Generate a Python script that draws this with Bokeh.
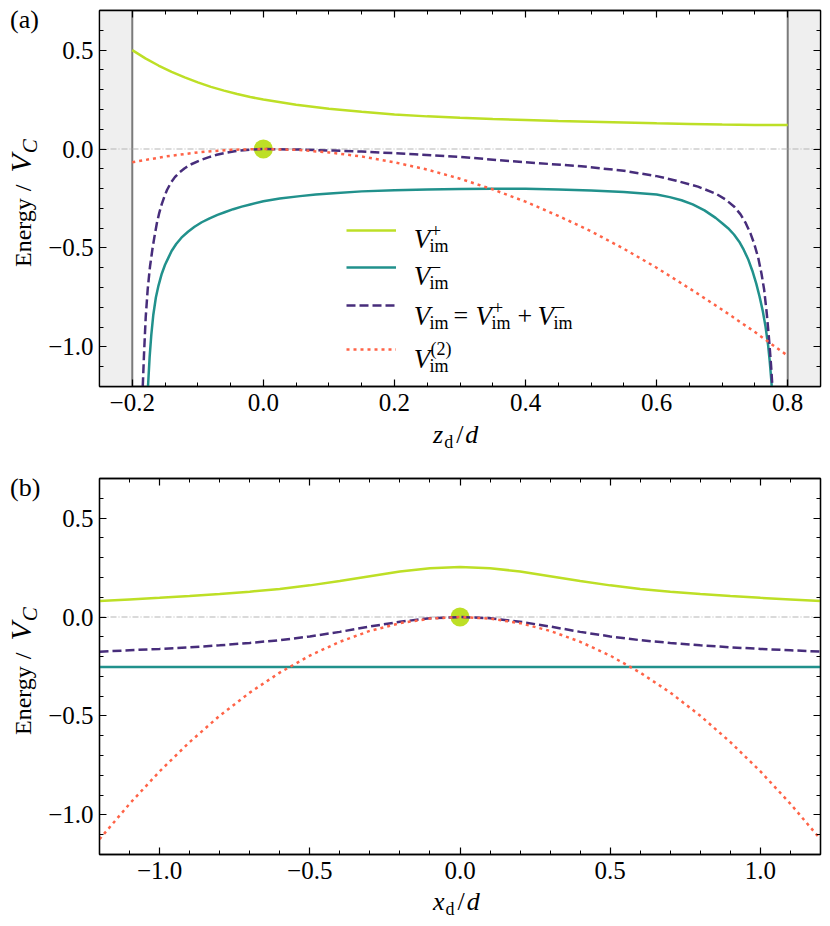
import numpy as np
from bokeh.plotting import figure
from bokeh.models import (Range1d, FixedTicker, LinearAxis, CustomJSTickFormatter,
                          BoxAnnotation, Span, Label, Legend, LegendItem, Div)
from bokeh.layouts import column, row
from bokeh.embed import file_html
from bokeh.resources import INLINE

# ---------------- data : panel (a), energy vs z_d/d ----------------
wall_left = -0.2
wall_right = 0.8

za_plus = [-0.20, -0.18, -0.16, -0.14, -0.12, -0.10, -0.08, -0.06, -0.04, -0.02, 0.00,
           0.05, 0.10, 0.15, 0.20, 0.25, 0.30, 0.35, 0.40, 0.45, 0.50, 0.55, 0.60,
           0.65, 0.70, 0.75, 0.80]
va_plus = [0.500, 0.458, 0.422, 0.390, 0.362, 0.337, 0.314, 0.295, 0.278, 0.263, 0.250,
           0.224, 0.204, 0.188, 0.175, 0.165, 0.158, 0.152, 0.147, 0.142, 0.138, 0.134, 0.130,
           0.127, 0.124, 0.122, 0.121]

za_minus = [-0.178, -0.176, -0.1735, -0.171, -0.168, -0.164, -0.160, -0.155, -0.150, -0.145,
            -0.140, -0.133, -0.125, -0.115, -0.105, -0.094, -0.082, -0.070, -0.058, -0.046,
            -0.033, -0.020, 0.000, 0.025, 0.056, 0.080, 0.107, 0.150, 0.200, 0.250, 0.300,
            0.350, 0.400, 0.450, 0.500, 0.550, 0.600, 0.620, 0.638, 0.655, 0.673, 0.690,
            0.700, 0.709, 0.718, 0.726, 0.733, 0.740, 0.746, 0.752, 0.757, 0.762, 0.766,
            0.770, 0.7725, 0.775, 0.7765, 0.778]
va_minus = [-1.33, -1.20, -1.05, -0.94, -0.84, -0.75, -0.69, -0.63, -0.585, -0.550,
            -0.515, -0.480, -0.448, -0.418, -0.393, -0.370, -0.350, -0.333, -0.318, -0.304,
            -0.291, -0.280, -0.264, -0.250, -0.238, -0.230, -0.223, -0.214, -0.208, -0.204, -0.202,
            -0.201, -0.201, -0.204, -0.209, -0.217, -0.230, -0.243, -0.259, -0.280, -0.310, -0.348,
            -0.375, -0.400, -0.432, -0.468, -0.510, -0.560, -0.615, -0.680, -0.745, -0.820, -0.895,
            -0.990, -1.070, -1.170, -1.250, -1.330]

za_im = [-0.1855, -0.184, -0.182, -0.1795, -0.1765, -0.173, -0.169, -0.1655, -0.1625, -0.159,
         -0.155, -0.151, -0.147, -0.141, -0.135, -0.128, -0.120, -0.110, -0.0965, -0.084,
         -0.071, -0.058, -0.046, -0.030, -0.015, 0.000, 0.056, 0.107, 0.150, 0.231, 0.300,
         0.400, 0.485, 0.550, 0.600, 0.630, 0.663, 0.690, 0.705, 0.718, 0.728, 0.736, 0.743,
         0.749, 0.755, 0.760, 0.764, 0.768, 0.7715, 0.7745, 0.777, 0.7785]
va_im = [-1.33, -1.20, -1.03, -0.85, -0.71, -0.595, -0.50, -0.43, -0.375, -0.325,
         -0.278, -0.240, -0.207, -0.170, -0.142, -0.118, -0.097, -0.077, -0.057, -0.042,
         -0.029, -0.019, -0.012, -0.006, -0.002, 0.000, -0.003, -0.008, -0.013, -0.026, -0.040,
         -0.067, -0.087, -0.110, -0.137, -0.160, -0.190, -0.225, -0.255, -0.290, -0.330, -0.375,
         -0.425, -0.480, -0.550, -0.630, -0.710, -0.830, -0.960, -1.090, -1.220, -1.320]

za_2 = [-0.20, -0.15, -0.10, -0.05, 0.00, 0.05, 0.10, 0.15, 0.20, 0.25, 0.30, 0.35, 0.40,
        0.45, 0.50, 0.55, 0.60, 0.65, 0.70, 0.75, 0.80]
va_2 = [-0.067, -0.038, -0.017, -0.004, 0.000, -0.004, -0.017, -0.038, -0.067, -0.104, -0.150,
        -0.204, -0.266, -0.338, -0.416, -0.504, -0.600, -0.704, -0.812, -0.925, -1.045]

marker_a_z = [0.0]
marker_a_v = [0.0]

# ---------------- data : panel (b), energy vs x_d/d ----------------
xb = [-1.2, -1.1, -1.0, -0.9, -0.8, -0.7, -0.6, -0.5, -0.4, -0.3, -0.2, -0.1, 0.0,
      0.1, 0.2, 0.3, 0.4, 0.5, 0.6, 0.7, 0.8, 0.9, 1.0, 1.1, 1.2]
vb_plus = [0.081, 0.089, 0.097, 0.106, 0.116, 0.128, 0.142, 0.160, 0.182, 0.206, 0.230, 0.247,
           0.253, 0.247, 0.230, 0.206, 0.182, 0.160, 0.142, 0.128, 0.116, 0.106, 0.097, 0.089, 0.081]
xb_minus = [-1.2, 1.2]
vb_minus = [-0.253, -0.253]
vb_im = [-0.175, -0.168, -0.161, -0.153, -0.143, -0.131, -0.117, -0.098, -0.075, -0.048, -0.024,
         -0.006, 0.000, -0.006, -0.024, -0.048, -0.075, -0.098, -0.117, -0.131, -0.143, -0.153,
         -0.161, -0.168, -0.175]
vb_2 = [-1.123, -0.944, -0.780, -0.632, -0.499, -0.382, -0.281, -0.195, -0.125, -0.070, -0.031,
        -0.008, 0.000, -0.008, -0.031, -0.070, -0.125, -0.195, -0.281, -0.382, -0.499, -0.632,
        -0.780, -0.944, -1.123]
marker_b_x = [0.0]
marker_b_v = [0.0]

# tick positions
xa_major = [-0.2, 0.0, 0.2, 0.4, 0.6, 0.8]
xb_major = [-1.0, -0.5, 0.0, 0.5, 1.0]
y_major = [-1.0, -0.5, 0.0, 0.5]

# ---------------- styling ----------------
FONT = "Liberation Serif"
C_PLUS = "#bddf26"
C_MINUS = "#21918c"
C_IM = "#472d7b"
C_2 = "#ff6347"
LW = 2.5
DASH = "9 4"
DOT = "3 4"
ZERO_DASH = "6 2 1 2"

xa_minor = [round(v, 3) for v in np.arange(-0.25, 0.8501, 0.05)]
xb_minor = [round(v, 3) for v in np.arange(-1.2, 1.2001, 0.1)]
y_minor = [round(v, 3) for v in np.arange(-1.2, 0.7001, 0.1)]

fmt = CustomJSTickFormatter(code="""
var s = Math.abs(tick) < 1e-9 ? '0.0' : tick.toFixed(1);
return s.replace('-', '\\u2212');
""")
blank = CustomJSTickFormatter(code="return '';")


def make_axis(kind, major, minor, show):
    ax = LinearAxis(ticker=FixedTicker(ticks=major, minor_ticks=minor))
    ax.major_tick_in = 7
    ax.major_tick_out = 0
    ax.minor_tick_in = 4
    ax.minor_tick_out = 0
    ax.axis_line_color = "black"
    ax.axis_line_width = 1.3
    ax.major_tick_line_color = "black"
    ax.major_tick_line_width = 1.2
    ax.minor_tick_line_color = "black"
    ax.minor_tick_line_width = 1.0
    if show:
        ax.formatter = fmt
        ax.major_label_text_font = FONT
        ax.major_label_text_font_size = "25px"
        ax.major_label_text_color = "black"
        ax.major_label_standoff = 7 if kind == "x" else 6
    else:
        ax.formatter = blank
        ax.major_label_text_font_size = "0px"
        ax.major_label_standoff = 0
    return ax


def add_text(p, fx, fy, px, py, text, size, style="normal"):
    p.add_layout(Label(x=px - fx, y=fy - py, x_units="screen", y_units="screen",
                       text=text, text_font=FONT, text_font_size=f"{size}px",
                       text_font_style=style, text_color="black", text_align="left",
                       text_baseline="alphabetic"))


def base_fig(height, xr, top, xmaj, xmin):
    p = figure(width=790, height=height, x_range=Range1d(*xr), y_range=Range1d(-1.2, 0.7),
               output_backend="svg", toolbar_location=None, x_axis_type=None, y_axis_type=None,
               min_border_left=59, min_border_right=10, min_border_top=top, min_border_bottom=40)
    p.grid.visible = False
    p.outline_line_color = "black"
    p.outline_line_width = 1.3
    p.background_fill_color = "white"
    p.border_fill_color = "white"
    p.add_layout(make_axis("x", xmaj, xmin, True), "below")
    p.add_layout(make_axis("x", xmaj, xmin, False), "above")
    p.add_layout(make_axis("y", y_major, y_minor, True), "left")
    p.add_layout(make_axis("y", y_major, y_minor, False), "right")
    return p


FF = "font-family:'Liberation Serif',serif;color:#000;"


def side_div(height, tag, tag_top, ylab_top):
    html = (
        f'<div style="position:relative;width:40px;height:{height}px;{FF}">'
        f'<div style="position:absolute;left:10px;top:{tag_top}px;font-size:26px;'
        f'line-height:26px;white-space:nowrap;">{tag}</div>'
        f'<div style="position:absolute;left:6px;top:{ylab_top}px;transform-origin:0 0;'
        f'transform:rotate(-90deg);white-space:nowrap;font-size:24px;line-height:30px;height:30px;">'
        f'Energy&nbsp;<span style="margin-left:1px">/</span>'
        f'<span style="font-style:italic;font-size:30px;margin-left:12px">V</span>'
        f'<span style="font-style:italic;font-size:21px;position:relative;top:6px;margin-left:1px">C</span>'
        f'</div></div>'
    )
    return Div(text=html, width=40, height=height, margin=0, styles={"overflow": "visible"})


def xlabel_div(height, var, top):
    html = (
        f'<div style="position:relative;width:830px;height:{height}px;{FF}">'
        f'<div style="position:absolute;left:433px;top:{top}px;font-size:26px;line-height:26px;'
        f'white-space:nowrap;"><i>{var}</i>'
        f'<span style="font-size:18px;position:relative;top:5px;margin-left:1px">d</span>'
        f'<span style="margin-left:3px">/</span><i style="margin-left:2px">d</i></div></div>'
    )
    return Div(text=html, width=830, height=height, margin=0, styles={"overflow": "visible"})


# ---------------- panel (a) ----------------
p1 = base_fig(426, (-0.25, 0.85), 10, xa_major, xa_minor)
F1X, F1Y = 99, 386  # page coords of frame bottom-left
p1.add_layout(BoxAnnotation(right=wall_left, fill_color="#efefef", fill_alpha=1.0,
                            line_color=None, level="underlay"))
p1.add_layout(BoxAnnotation(left=wall_right, fill_color="#efefef", fill_alpha=1.0,
                            line_color=None, level="underlay"))
p1.add_layout(Span(location=wall_left, dimension="height", line_color="#7a7a7a",
                   line_width=2, level="underlay"))
p1.add_layout(Span(location=wall_right, dimension="height", line_color="#7a7a7a",
                   line_width=2, level="underlay"))
p1.add_layout(Span(location=0.0, dimension="width", line_color="#b5b5b5", line_width=1.1,
                   line_dash=ZERO_DASH, level="underlay"))

p1.scatter(marker_a_z, marker_a_v, size=19, fill_color=C_PLUS, line_color=None)
r_plus = p1.line(za_plus, va_plus, line_color=C_PLUS, line_width=LW)
r_minus = p1.line(za_minus, va_minus, line_color=C_MINUS, line_width=LW)
r_im = p1.line(za_im, va_im, line_color=C_IM, line_width=LW, line_dash=DASH)
r_2 = p1.line(za_2, va_2, line_color=C_2, line_width=LW, line_dash=DOT)

# legend samples (one legend per row so rows can sit at their own heights)
row_centers = [230, 266.7, 305, 349.3]
for r, cy in zip([r_plus, r_minus, r_im, r_2], row_centers):
    lg = Legend(items=[LegendItem(label=" ", renderers=[r])],
                location=(346 - F1X, F1Y - cy - 5), glyph_width=50, glyph_height=10,
                label_width=0, label_height=10, label_standoff=0, padding=0, margin=0,
                spacing=0, border_line_color=None, background_fill_alpha=0,
                label_text_font_size="1px")
    p1.add_layout(lg, "center")

# legend texts
VX, SX = 413.3, 429
rows = [238, 275, 315, 358]
add_text(p1, F1X, F1Y, VX, rows[0], "V", 27, "italic")
add_text(p1, F1X, F1Y, SX, rows[0] + 7, "im", 18)
add_text(p1, F1X, F1Y, SX + 1, rows[0] - 8, "+", 19)
add_text(p1, F1X, F1Y, VX, rows[1], "V", 27, "italic")
add_text(p1, F1X, F1Y, SX, rows[1] + 7, "im", 18)
add_text(p1, F1X, F1Y, SX + 1, rows[1] - 8, "\u2212", 19)
add_text(p1, F1X, F1Y, VX, rows[2], "V", 27, "italic")
add_text(p1, F1X, F1Y, SX, rows[2] + 7, "im", 18)
add_text(p1, F1X, F1Y, 453, rows[2], "=", 26)
add_text(p1, F1X, F1Y, 475, rows[2], "V", 27, "italic")
add_text(p1, F1X, F1Y, 491, rows[2] + 7, "im", 18)
add_text(p1, F1X, F1Y, 492, rows[2] - 8, "+", 19)
add_text(p1, F1X, F1Y, 517, rows[2], "+", 26)
add_text(p1, F1X, F1Y, 537, rows[2], "V", 27, "italic")
add_text(p1, F1X, F1Y, 553, rows[2] + 7, "im", 18)
add_text(p1, F1X, F1Y, 554, rows[2] - 8, "\u2212", 19)
add_text(p1, F1X, F1Y, VX, rows[3], "V", 27, "italic")
add_text(p1, F1X, F1Y, SX, rows[3] + 7, "im", 18)
add_text(p1, F1X, F1Y, SX + 1, rows[3] - 10, "(2)", 18)

# ---------------- panel (b) ----------------
p2 = base_fig(436, (-1.2, 1.2), 20, xb_major, xb_minor)
p2.add_layout(Span(location=0.0, dimension="width", line_color="#b5b5b5", line_width=1.1,
                   line_dash=ZERO_DASH, level="underlay"))
p2.scatter(marker_b_x, marker_b_v, size=19, fill_color=C_PLUS, line_color=None)
p2.line(xb, vb_plus, line_color=C_PLUS, line_width=LW)
p2.line(xb_minus, vb_minus, line_color=C_MINUS, line_width=LW)
p2.line(xb, vb_im, line_color=C_IM, line_width=LW, line_dash=DASH)
p2.line(xb, vb_2, line_color=C_2, line_width=LW, line_dash=DOT)

# ---------------- page layout ----------------
divAL = side_div(426, "(a)", 6.7, 266.7)
divAX = xlabel_div(32, "z", -3.8)
divBL = side_div(436, "(b)", 16.7, 276.7)
divBX = xlabel_div(26, "x", -4.8)

layout = column(row(divAL, p1, spacing=0), divAX, row(divBL, p2, spacing=0), divBX, spacing=0)
open("out.html", "w").write(file_html(layout, INLINE))
